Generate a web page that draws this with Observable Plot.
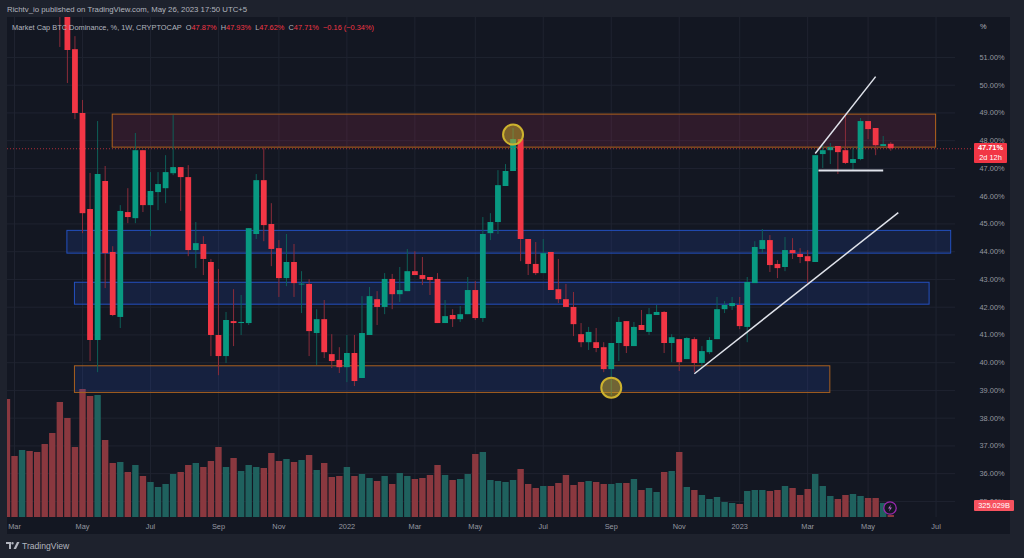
<!DOCTYPE html>
<html><head><meta charset="utf-8">
<script src="https://cdn.jsdelivr.net/npm/d3@7"></script>
<script src="https://cdn.jsdelivr.net/npm/@observablehq/plot@0.6"></script>
<style>
html,body{margin:0;padding:0;background:#1e222d;width:1024px;height:558px;overflow:hidden;font-family:"Liberation Sans",Roboto,sans-serif}
#wrap{position:relative;width:1024px;height:558px}
#pane{position:absolute;left:7px;top:17px;width:1003px;height:517px;background:#131722}
#chart{position:absolute;left:0;top:0}
.t{position:absolute;white-space:pre;color:#b2b5be;font-size:7.8px;line-height:10px}
.r{color:#f23645}
.tag{position:absolute;background:#f23645;color:#fff;font-size:7.4px;text-align:center;border-radius:1px}
</style></head><body>
<div id="wrap">
<div id="pane"></div>
<div id="chart"></div>
<div class="t" style="left:7px;top:5px">Richtv_io published on TradingView.com, May 26, 2023 17:50 UTC+5</div>
<div class="t" style="left:12px;top:23px;font-size:7.4px">Market Cap BTC Dominance, %, 1W, CRYPTOCAP  O<span class="r">47.87%</span>  H<span class="r">47.93%</span>  L<span class="r">47.62%</span>  C<span class="r">47.71%</span>  <span class="r">−0.16 (−0.34%)</span></div>
<div class="t" style="left:980px;top:22px;font-size:7.4px">%</div>
<div class="tag" style="left:974px;top:143px;width:33px;height:20px;line-height:10px;font-weight:bold">47.71%<br><span style="font-weight:normal">2d 12h</span></div>
<div class="tag" style="left:974px;top:500px;width:40px;height:11px;line-height:11px;background:#f7525f">325.029B</div>
<svg style="position:absolute;left:882px;top:500px" width="16" height="16" viewBox="0 0 16 16"><circle cx="8" cy="8" r="6.2" fill="#131722" stroke="#9c27b0" stroke-width="1.3"/><path d="M9 4.5 6 8.5h2L7 11.5l3-4H8z" fill="#ba68c8"/></svg>
<svg style="position:absolute;left:6px;top:542px" width="14" height="8" viewBox="0 0 14 8"><path d="M0 0h5v7H3V2H0zM6.5 0a1.2 1.2 0 1 1 0 2.4 1.2 1.2 0 0 1 0-2.4zM11 0h2.5L10 7H7.5z" fill="#b2b5be"/></svg>
<div class="t" style="left:22px;top:541px;font-size:8.6px;line-height:11px">TradingView</div>
</div>
<script>
// Weekly candles, first one shown is the week of 12 Apr 2021
const open = [53.5,52.8,51.28,48.98,45.52,40.80,46.53,43.97,41.63,45.41,
45.19,47.64,45.66,46.13,46.27,46.81,47.03,46.67,44.04,44.26,
43.61,40.98,40.22,41.48,41.41,41.41,44.62,46.56,44.98,44.11,
43.03,43.61,42.80,42.82,41.05,41.55,40.29,40.08,39.82,40.33,
39.43,40.98,42.27,41.99,43.00,42.45,42.56,43.28,43.14,43.07,
43.00,41.41,41.70,41.55,41.73,42.60,41.59,44.65,45.05,46.35,
46.89,48.04,44.44,43.54,43.21,43.97,42.63,42.27,41.99,41.01,
40.72,40.72,40.54,39.75,40.69,41.48,40.58,41.34,41.09,41.70,
41.81,40.69,40.83,40.11,40.83,39.97,40.36,40.83,41.91,42.02,
42.06,41.27,42.85,44.08,44.40,43.54,43.43,44.04,43.90,43.82,
43.61,47.50,47.64,47.79,47.64,47.18,47.32,48.69,48.44,47.79,47.87];
const high = [54.5,53.2,51.75,49.45,46.82,48.69,47.07,44.18,45.66,46.27,
48.26,47.64,46.85,46.85,47.46,48.91,47.03,47.10,45.05,44.54,
43.72,43.36,41.81,42.63,42.42,44.83,46.78,47.72,45.73,44.40,
44.62,44.26,43.28,42.99,41.91,42.24,41.01,40.54,40.98,40.98,
42.38,42.71,42.56,43.21,43.18,43.43,44.08,44.00,43.79,43.07,
43.21,42.24,41.91,42.02,43.07,42.92,45.23,45.37,46.92,47.14,
48.44,48.04,44.44,44.33,44.44,43.97,43.72,42.82,42.53,41.41,
41.27,41.23,40.72,40.69,41.63,41.48,41.45,41.88,41.95,42.06,
41.84,41.01,40.83,40.90,40.90,40.58,40.90,42.35,42.20,42.35,
42.35,43.07,44.36,44.80,44.58,43.68,44.51,44.47,44.11,44.04,
47.46,47.82,47.90,47.79,48.98,47.75,48.80,48.69,48.44,48.15,47.93];
const low = [51.36,50.06,48.76,44.65,40.04,39.64,42.67,41.66,41.23,45.01,
45.01,45.41,44.54,45.48,45.73,46.74,45.45,43.82,43.39,43.14,
40.22,39.53,39.97,40.58,40.98,41.34,44.44,44.36,43.46,42.35,
42.74,42.35,41.77,40.22,39.90,40.15,39.79,39.61,39.28,39.14,
39.43,40.98,41.34,41.73,41.91,42.17,42.56,43.14,42.78,42.42,
41.41,41.41,41.27,41.45,41.73,41.52,41.45,44.40,44.62,46.35,
46.89,43.64,43.14,43.14,43.21,42.60,42.13,41.99,40.94,40.54,
40.44,40.36,39.64,38.81,40.04,40.33,40.58,41.16,40.98,41.70,
40.33,40.00,39.68,40.11,39.64,39.79,40.29,40.83,41.77,41.88,
41.19,40.72,42.85,43.93,43.25,43.03,43.28,43.72,43.57,42.85,
43.61,47.00,47.14,46.78,47.14,46.89,47.28,48.04,47.46,47.79,47.62];
const close = [52.8,51.25,48.98,45.37,40.80,46.78,43.93,41.70,45.45,45.23,
47.64,45.66,46.17,46.42,46.85,47.03,46.67,44.04,44.29,43.72,
40.98,40.22,41.52,41.41,41.45,44.83,46.56,44.94,44.08,43.03,
43.61,42.85,42.83,41.12,41.55,40.36,40.04,39.82,40.33,39.32,
41.05,42.38,41.99,43.00,42.45,42.60,43.28,43.14,43.00,42.96,
41.41,41.66,41.55,41.73,42.60,41.59,44.62,45.05,46.38,46.89,
48.04,44.44,43.54,43.21,43.93,42.60,42.27,41.99,41.37,40.72,
41.09,40.51,39.75,40.69,41.45,40.58,41.27,41.16,41.73,41.81,
40.69,40.90,40.00,40.87,39.97,40.40,40.80,41.91,42.06,42.13,
41.30,42.89,44.15,44.40,43.50,43.39,44.04,43.93,43.79,43.64,
47.46,47.64,47.75,47.57,47.18,47.32,48.69,48.40,47.82,47.86,47.71];

// Relative weekly volume, first bar is the week of 22 Feb 2021
const volume = [118,61,67,66,65,73,84,115,99,70,
128,121,122,77,54,55,45,52,41,35,
30,33,43,45,52,54,50,56,70,50,
59,46,52,50,49,64,56,58,55,57,
62,47,54,40,41,
50,41,43,39,36,41,33,44,41,38,
39,42,52,42,37,38,43,63,65,37,
36,35,37,48,33,29,31,31,34,42,
32,35,36,35,33,33,34,34,38,27,
29,25,45,46,65,
30,27,22,18,20,15,14,13,26,27,
27,26,27,31,29,22,28,43,31,21,
18,22,23,21,19,19,14,2];
const earlyVolumeUp = [false,false,true,false,false,false,false]; // weeks before the first visible candle

const monthTicks = ["2021-03-01","2021-05-03","2021-07-05","2021-09-06","2021-11-01","2022-01-03","2022-03-07","2022-05-02","2022-07-04","2022-09-05","2022-11-07","2023-01-02","2023-03-06","2023-05-01","2023-07-03"];
const monthLabels = ["Mar","May","Jul","Sep","Nov","2022","Mar","May","Jul","Sep","Nov","2023","Mar","May","Jul"];
const priceTicks = [35,36,37,38,39,40,41,42,43,44,45,46,47,48,49,50,51];

const zoneStart = ["2021-05-31","2021-04-19","2021-04-26","2021-04-26"];
const zoneEnd   = ["2023-07-03","2023-07-17","2023-06-27","2023-03-27"];
const zoneTop   = [48.94,44.75,42.88,39.87];
const zoneBottom= [47.75,43.93,42.09,38.91];
const zoneFill  = ["rgba(242,54,110,.13)","rgba(41,82,210,.17)","rgba(41,82,210,.17)","rgba(41,82,210,.17)"];
const zoneStroke= ["#b0601c","#2350c0","#2350c0","#a8601f"];

const trendStart = ["2022-11-21","2023-03-13","2023-03-16"];
const trendEnd   = ["2023-05-29","2023-05-08","2023-05-15"];
const trendFrom  = [39.6,47.54,46.93];
const trendTo    = [45.41,50.31,46.93];
const trendWidth = [1.5,1.5,2];

const markerDates = ["2022-06-06","2022-09-05"];
const markerValues = [48.22,39.10];
const lastClose = 47.71;
const volumeBase = 34.42;
const pctPerVolume = 1/27.75;

const D = s => new Date(s + "T00:00:00Z");
const candleWeeks = d3.utcMonday.range(D("2021-04-12"), D("2023-05-23"));
const volumeWeeks = d3.utcMonday.range(D("2021-02-22"), D("2023-05-23"));
const candles = candleWeeks.map((t,i)=>({t,o:open[i],h:high[i],l:low[i],c:close[i],up:close[i]>=open[i]}));
const vols = volumeWeeks.map((t,i)=>({t,v:volume[i],up:i<earlyVolumeUp.length?earlyVolumeUp[i]:candles[i-earlyVolumeUp.length].up}));
const zones = zoneStart.map((s,i)=>({x1:D(s),x2:D(zoneEnd[i]),y1:zoneBottom[i],y2:zoneTop[i],fill:zoneFill[i],stroke:zoneStroke[i]}));
const trends = trendStart.map((s,i)=>({x1:D(s),x2:D(trendEnd[i]),y1:trendFrom[i],y2:trendTo[i],w:trendWidth[i]}));
const markers = markerDates.map((s,i)=>({x:D(s),y:markerValues[i]}));
const ticks = monthTicks.map(D);
const tickLabel = new Map(monthTicks.map((s,i)=>[+D(s),monthLabels[i]]));

const chart = Plot.plot({
  width:1024,height:558,
  marginLeft:7,marginRight:69,marginTop:17,marginBottom:41,
  style:{background:"transparent",fontFamily:'"Liberation Sans",Roboto,sans-serif',fontSize:"7.4px",color:"#b2b5be"},
  x:{type:"utc",domain:[new Date("2021-02-22T12:00:00Z"),new Date("2023-07-21T00:00:00Z")],label:null},
  y:{domain:[volumeBase,52.44],label:null},
  marks:[
    Plot.ruleY(priceTicks,{stroke:"#1f2330",strokeWidth:1}),
    Plot.ruleX(ticks,{stroke:"#1f2330",strokeWidth:1}),
    Plot.ruleX(vols,{x:"t",y1:()=>volumeBase,y2:d=>volumeBase+d.v*pctPerVolume,stroke:d=>d.up?"#1f615e":"#8a383f",strokeWidth:6.4,clip:true}),
    Plot.rect(zones,{x1:"x1",x2:"x2",y1:"y1",y2:"y2",fill:d=>d.fill,stroke:d=>d.stroke,strokeWidth:1}),
    Plot.ruleX(candles,{x:"t",y1:"l",y2:"h",stroke:d=>d.up?"#0e5f58":"#8a2c3a",strokeWidth:1,clip:true}),
    Plot.ruleX(candles,{x:"t",y1:"o",y2:"c",stroke:d=>d.up?"#089981":"#f23645",strokeWidth:5.8,clip:true}),
    Plot.ruleY([lastClose],{x1:()=>new Date("2021-02-22T12:00:00Z"),x2:()=>new Date("2023-08-06T00:00:00Z"),stroke:"#f23645",strokeWidth:1,strokeDasharray:"1,2",strokeOpacity:.7}),
    Plot.dot(markers,{x:"x",y:"y",r:10,fill:"#c9a82c",fillOpacity:.5,stroke:"#cdb22e",strokeWidth:2}),
    Plot.link(trends,{x1:"x1",x2:"x2",y1:"y1",y2:"y2",stroke:"#e0e3eb",strokeWidth:d=>d.w}),
    Plot.axisY(priceTicks,{anchor:"right",tickSize:0,tickPadding:24,tickFormat:d=>d.toFixed(2)+"%",fill:"#9598a1",label:null,textAnchor:"start"}),
    Plot.axisX(ticks,{anchor:"bottom",tickSize:0,tickPadding:6,tickFormat:d=>tickLabel.get(+d),fill:"#9598a1",label:null})
  ]
});
document.getElementById("chart").appendChild(chart);
</script>
</body></html>
